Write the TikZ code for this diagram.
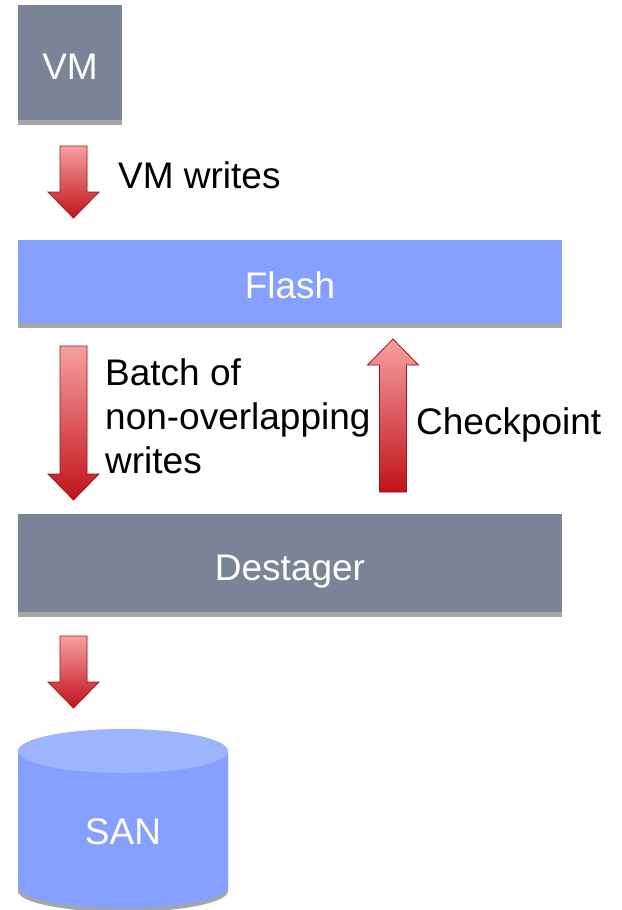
\documentclass[tikz,border=0pt]{standalone}
\usepackage{fontspec}
\setmainfont{Liberation Sans}
\usetikzlibrary{shadows,calc}

\definecolor{slate}{HTML}{7B8396}
\definecolor{flashblue}{HTML}{86A0FF}
\definecolor{sanlight}{HTML}{9DB4FF}
\definecolor{shgray}{HTML}{A6A6A6}
\definecolor{arrowtop}{HTML}{F7A0A0}
\definecolor{arrowbot}{HTML}{C0121A}
\definecolor{arrowline}{HTML}{A3161D}

% block arrow from #1 to #2 (tip at #2)
\newcommand{\flowarrow}[2]{%
  \foreach \sty in {arrowshadow,arrowbody}{
    \path[\sty] let \p1=(#1), \p2=(#2), \n1={sign(\y2-\y1)*26} in
      ({\x1-13.5pt},\y1) -- ({\x1-13.5pt},{\y2-\n1}) -- ({\x1-25.5pt},{\y2-\n1})
      -- (\x2,\y2) -- ({\x1+25.5pt},{\y2-\n1}) -- ({\x1+13.5pt},{\y2-\n1})
      -- ({\x1+13.5pt},\y1) -- cycle;
  }%
}

\begin{document}
\begin{tikzpicture}[x=1pt,y=-1pt]

\tikzstyle{box}=[rectangle, inner sep=0, text=white,
    text height=34pt, text depth=0pt,
    drop shadow={shadow xshift=0pt, shadow yshift=-5pt, fill=shgray, opacity=1}]
\tikzstyle{arrowbody}=[top color=arrowtop, bottom color=arrowbot,
    draw=arrowline, line width=0.8pt]
\tikzstyle{arrowshadow}=[fill=shgray, shift={(2,3)}]
\tikzstyle{label}=[inner sep=0, align=left]

  \useasboundingbox (0,0) rectangle (621,910);
  \fontsize{37}{44}\selectfont

  \node[box, fill=slate, minimum width=104, minimum height=115] (vm) at (70,62.5) {VM};
  \node[box, fill=flashblue, minimum width=544, minimum height=83] (flash) at (290,281.5) {Flash};
  \node[box, fill=slate, minimum width=544, minimum height=98] (destager) at (290,563) {Destager};

  % SAN cylinder
  \fill[shgray, shift={(0,4)}] (18,751) -- (18,887)
    arc[start angle=180, end angle=0, x radius=105, y radius=21] -- (228,751) -- cycle;
  \fill[flashblue] (18,751) -- (18,887)
    arc[start angle=180, end angle=0, x radius=105, y radius=21] -- (228,751) -- cycle;
  \fill[sanlight] (123,751) ellipse [x radius=105, y radius=22];
  \node[label, text=white] (san) at (123,832) {SAN};

  % arrow ends
  \coordinate (w1s) at (73.5,146);
  \coordinate (w1e) at (73.5,218);
  \coordinate (w2s) at (73.5,346);
  \coordinate (w2e) at (73.5,500);
  \coordinate (cps) at (393,492);
  \coordinate (cpe) at (393,339);
  \coordinate (w3s) at (73.5,636);
  \coordinate (w3e) at (73.5,708);

  \flowarrow{w1s}{w1e}
  \flowarrow{w2s}{w2e}
  \flowarrow{cps}{cpe}
  \flowarrow{w3s}{w3e}

  \node[label, anchor=base west] (vmwrites) at (118,188) {VM writes};
  \node[label, anchor=base west] (batch) at (105,473) {Batch of\\non-overlapping\\writes};
  \node[label, anchor=base west] (checkpoint) at (416,434) {Checkpoint};

\end{tikzpicture}
\end{document}
